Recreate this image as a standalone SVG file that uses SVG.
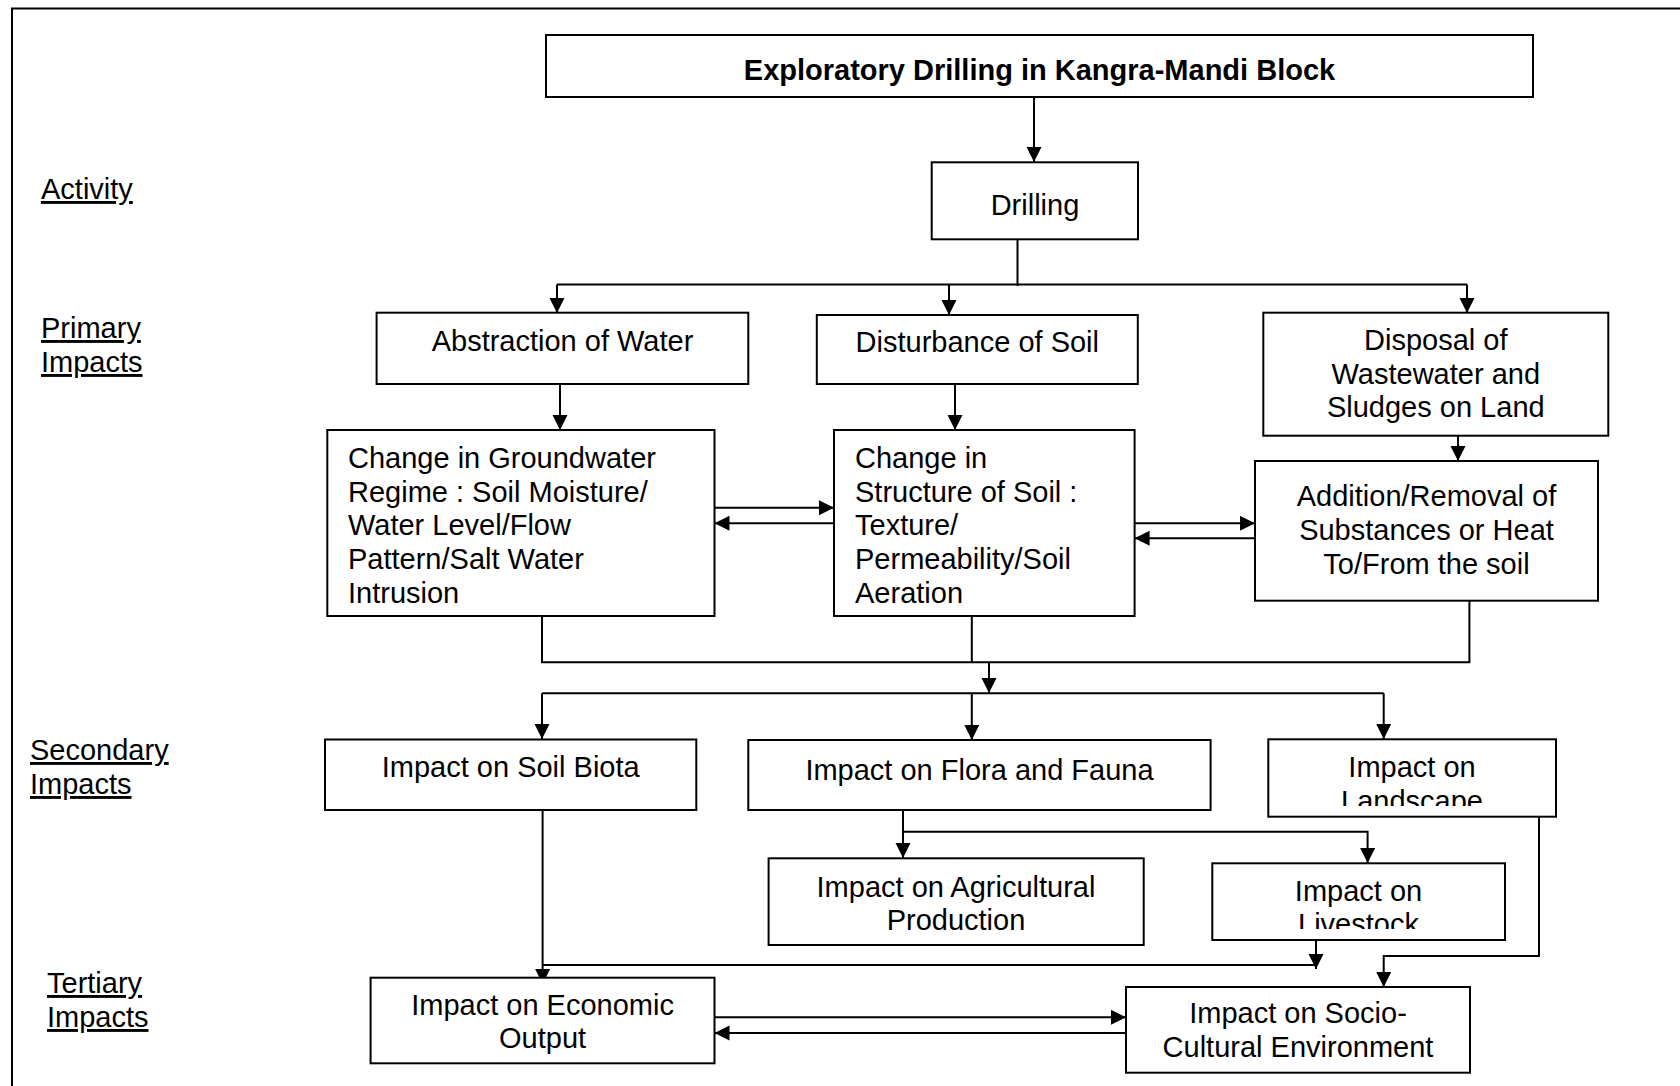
<svg xmlns="http://www.w3.org/2000/svg" width="1680" height="1086" viewBox="0 0 1680 1086">
<style>
.box{fill:#fff;stroke:#000;stroke-width:2}
.t{font-family:"Liberation Sans",Arial,sans-serif;font-size:29px;fill:#000}
.c{text-anchor:middle}
.b{font-weight:bold}
.lab{text-decoration:underline}
.con line,.con polyline{fill:none;stroke:#000;stroke-width:2}
.ar{marker-end:url(#ah)}
</style>
<defs>
<marker id="ah" markerUnits="userSpaceOnUse" markerWidth="16" markerHeight="16" viewBox="0 0 16 16" refX="15" refY="7.5" orient="auto">
<path d="M0,0 L15,7.5 L0,15 z" fill="#000"/>
</marker>
<clipPath id="clipLand"><rect x="1269" y="740" width="286" height="66"/></clipPath>
<clipPath id="clipLive"><rect x="1213" y="864" width="291" height="65"/></clipPath>
</defs>
<rect x="12" y="8.5" width="1700" height="1100" fill="#fff" stroke="#000" stroke-width="2"/>
<g id="labels">
<text class="t lab" x="41" y="199">Activity</text>
<text class="t lab" x="41" y="338">Primary</text>
<text class="t lab" x="41" y="372">Impacts</text>
<text class="t lab" x="30" y="760">Secondary</text>
<text class="t lab" x="30" y="794">Impacts</text>
<text class="t lab" x="47" y="993">Tertiary</text>
<text class="t lab" x="47" y="1027">Impacts</text>
</g>
<g class="con" id="connectors">
<line class="ar" x1="1034" y1="97" x2="1034" y2="162"/>
<line x1="1017.5" y1="239" x2="1017.5" y2="286"/>
<line x1="557" y1="284.5" x2="1467" y2="284.5"/>
<line class="ar" x1="557" y1="284.5" x2="557" y2="313"/>
<line class="ar" x1="949" y1="284.5" x2="949" y2="315"/>
<line class="ar" x1="1467" y1="284.5" x2="1467" y2="313"/>
<line class="ar" x1="560" y1="384" x2="560" y2="430"/>
<line class="ar" x1="955" y1="384" x2="955" y2="430"/>
<line class="ar" x1="1458" y1="436" x2="1458" y2="461"/>
<line class="ar" x1="714.5" y1="507.7" x2="834" y2="507.7"/>
<line class="ar" x1="834" y1="523.3" x2="714.5" y2="523.3"/>
<line class="ar" x1="1134.6" y1="523.3" x2="1255" y2="523.3"/>
<line class="ar" x1="1255" y1="538.3" x2="1134.6" y2="538.3"/>
<polyline points="542,616 542,662.3 1469.4,662.3 1469.4,600.7"/>
<line x1="971.8" y1="616" x2="971.8" y2="662.3"/>
<line class="ar" x1="989" y1="662.3" x2="989" y2="693"/>
<line x1="542" y1="693.3" x2="1383.7" y2="693.3"/>
<line class="ar" x1="542" y1="693.3" x2="542" y2="739"/>
<line class="ar" x1="971.8" y1="693.3" x2="971.8" y2="740"/>
<line class="ar" x1="1383.7" y1="693.3" x2="1383.7" y2="739"/>
<polyline class="ar" points="903,810 903,831.7 1367.6,831.7 1367.6,863"/>
<line class="ar" x1="903" y1="831.7" x2="903" y2="858"/>
<line class="ar" x1="542.6" y1="810" x2="542.6" y2="984"/>
<line x1="542.6" y1="965" x2="1316" y2="965"/>
<line class="ar" x1="1316" y1="940" x2="1316" y2="969"/>
<polyline class="ar" points="1539,816.7 1539,956 1383.7,956 1383.7,987"/>
<line class="ar" x1="714.5" y1="1017.3" x2="1126" y2="1017.3"/>
<line class="ar" x1="1126" y1="1033" x2="714.5" y2="1033"/>
</g>
<g id="n-explor">
<rect class="box" x="546" y="35" width="987" height="62"/>
<text class="t c b" x="1039.5" y="80">Exploratory Drilling in Kangra-Mandi Block</text>
</g>
<g id="n-drilling">
<rect class="box" x="931.7" y="162.3" width="206.3" height="77"/>
<text class="t c" x="1035" y="215">Drilling</text>
</g>
<g id="n-abstraction">
<rect class="box" x="376.6" y="312.7" width="371.7" height="71.3"/>
<text class="t c" x="562.5" y="351">Abstraction of Water</text>
</g>
<g id="n-disturbance">
<rect class="box" x="816.8" y="315" width="321" height="69"/>
<text class="t c" x="977.3" y="351.5">Disturbance of Soil</text>
</g>
<g id="n-disposal">
<rect class="box" x="1263.3" y="312.7" width="345" height="123"/>
<text class="t c" x="1435.8" y="350">Disposal of<tspan x="1435.8" dy="33.7">Wastewater and</tspan><tspan x="1435.8" dy="33.7">Sludges on Land</tspan></text>
</g>
<g id="n-groundwater">
<rect class="box" x="327.3" y="430" width="387.2" height="186"/>
<text class="t" x="348" y="468">Change in Groundwater<tspan x="348" dy="33.7">Regime : Soil Moisture/</tspan><tspan x="348" dy="33.7">Water Level/Flow</tspan><tspan x="348" dy="33.7">Pattern/Salt Water</tspan><tspan x="348" dy="33.7">Intrusion</tspan></text>
</g>
<g id="n-structure">
<rect class="box" x="834" y="430" width="300.6" height="186"/>
<text class="t" x="855" y="468">Change in<tspan x="855" dy="33.7">Structure of Soil :</tspan><tspan x="855" dy="33.7">Texture/</tspan><tspan x="855" dy="33.7">Permeability/Soil</tspan><tspan x="855" dy="33.7">Aeration</tspan></text>
</g>
<g id="n-addition">
<rect class="box" x="1255" y="461" width="343" height="139.7"/>
<text class="t c" x="1426.5" y="506">Addition/Removal of<tspan x="1426.5" dy="34">Substances or Heat</tspan><tspan x="1426.5" dy="34">To/From the soil</tspan></text>
</g>
<g id="n-soilbiota">
<rect class="box" x="325" y="739.5" width="371.3" height="70.5"/>
<text class="t c" x="510.7" y="777">Impact on Soil Biota</text>
</g>
<g id="n-flora">
<rect class="box" x="748.3" y="740" width="462.3" height="70"/>
<text class="t c" x="979.5" y="779.5">Impact on Flora and Fauna</text>
</g>
<g id="n-landscape">
<rect class="box" x="1268.3" y="739.3" width="287.7" height="77.4"/>
<text class="t c" x="1412" y="777.3" clip-path="url(#clipLand)">Impact on<tspan x="1412" dy="33.7">Landscape</tspan></text>
</g>
<g id="n-agri">
<rect class="box" x="768.6" y="858.3" width="375.1" height="86.7"/>
<text class="t c" x="956" y="896.7">Impact on Agricultural<tspan x="956" dy="33">Production</tspan></text>
</g>
<g id="n-livestock">
<rect class="box" x="1212.3" y="863.3" width="292.7" height="76.7"/>
<text class="t c" x="1358.5" y="900.7" clip-path="url(#clipLive)">Impact on<tspan x="1358.5" dy="33.7">Livestock</tspan></text>
</g>
<g id="n-economic">
<rect class="box" x="370.6" y="977.7" width="343.9" height="85.6"/>
<text class="t c" x="542.6" y="1015">Impact on Economic<tspan x="542.6" dy="33.3">Output</tspan></text>
</g>
<g id="n-socio">
<rect class="box" x="1126" y="987" width="344" height="85.7"/>
<text class="t c" x="1298" y="1023.3">Impact on Socio-<tspan x="1298" dy="34">Cultural Environment</tspan></text>
</g>
</svg>
